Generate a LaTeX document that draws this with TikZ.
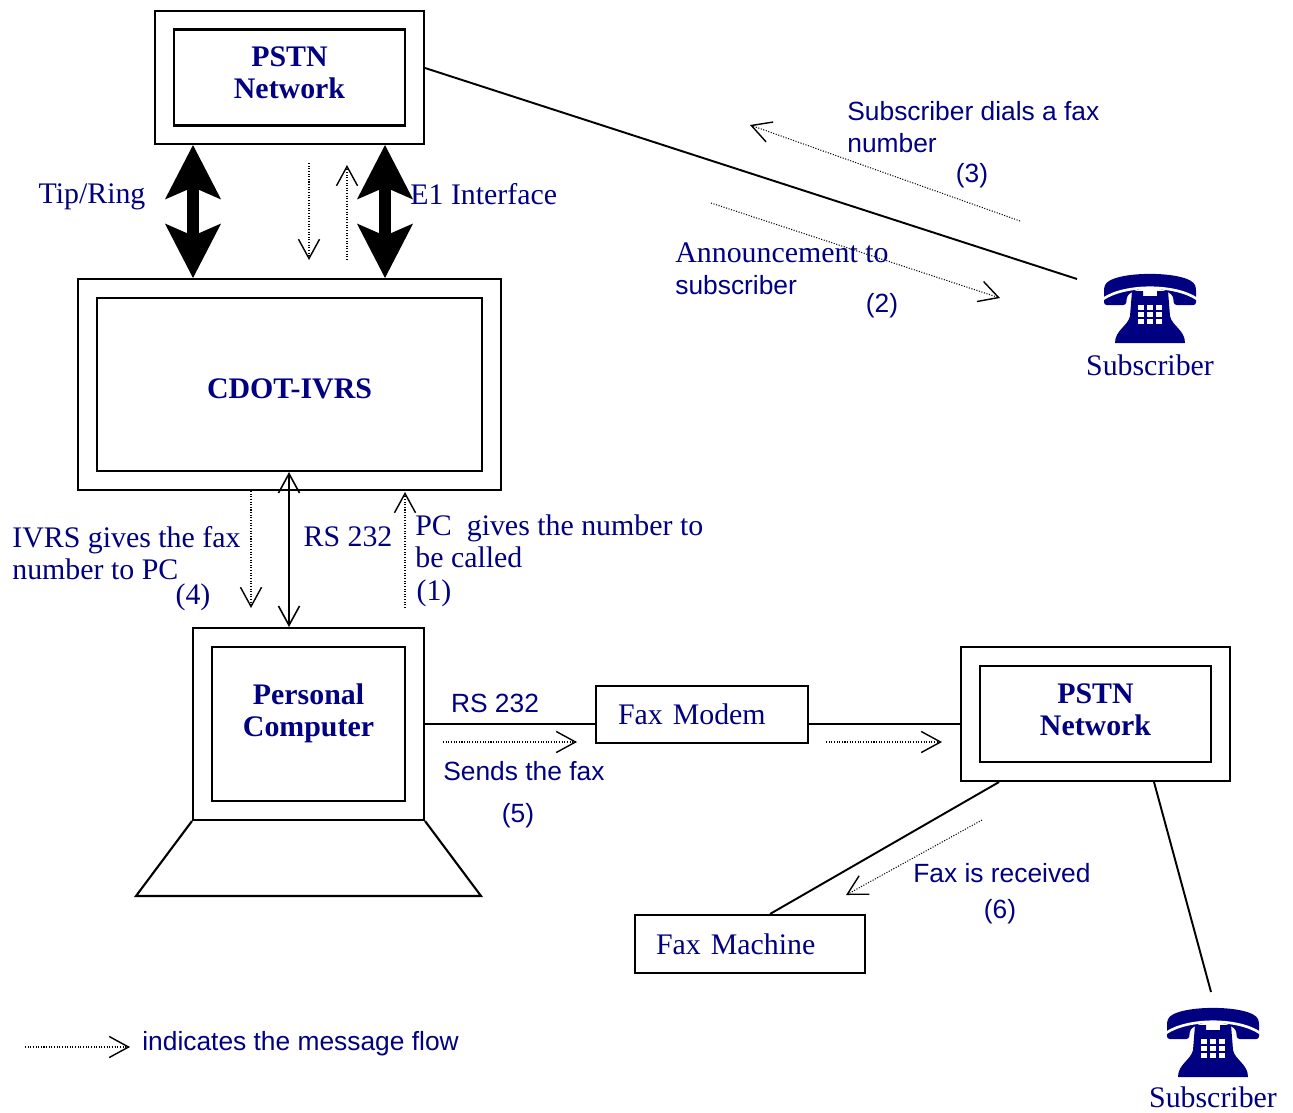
\documentclass[tikz,border=0pt]{standalone}
\usepackage{fontspec}
\setmainfont{Liberation Serif}
\setsansfont{Liberation Sans}
\usetikzlibrary{arrows.meta,calc}
\definecolor{navy}{RGB}{0,0,128}

% telephone icon, drawn around its body centre
\tikzset{
  phone/.pic={
    \fill[navy, rounded corners=1.5pt] (-46,-3) -- (-46,-20) .. controls (-40,-38) and (40,-38) .. (46,-20)
      -- (46,-3) -- (24,-3) -- (23,-12) .. controls (12,-22) and (-12,-22) .. (-23,-12) -- (-24,-3) -- cycle;
    \fill[navy] (-18,-17) -- (-7,-17) -- (-7,-12) -- (7,-12) -- (7,-17) -- (18,-17) -- (20,8)
      .. controls (22,18) and (35,22) .. (35,35) -- (-35,35) .. controls (-35,22) and (-22,18) .. (-20,8) -- cycle;
    \draw[white, line width=1.5pt] (-47,-9) .. controls (-25,-24) and (25,-24) .. (47,-9);
    \foreach \i in {-1,0,1}
      \foreach \j in {0,1,2}
        \fill[white] (\i*9-3,\j*7-3) rectangle ++(6,4.5);
  }
}

\begin{document}
\begin{tikzpicture}[x=0.02cm, y=-0.02cm,
    box/.style = {draw, line width=1.2pt, inner sep=0pt},
    title/.style = {text=navy, font=\fontsize{17}{18}\selectfont\bfseries, align=center, inner sep=0pt},
    lbl/.style = {text=navy, font=\fontsize{17}{18}\selectfont, align=left, inner sep=0pt},
    slbl/.style = {text=navy, font=\sffamily\fontsize{15}{17.8}\selectfont, align=left, inner sep=0pt},
    wire/.style = {line width=1.1pt},
    flow/.style = {line width=0.6pt, dash pattern=on 0.6pt off 0.9pt, -{Straight Barb[length=11pt, width=12pt, line width=0.8pt]}},
    link/.style = {line width=0.9pt, {Straight Barb[length=11pt, width=12pt, line width=0.9pt]}-{Straight Barb[length=11pt, width=12pt, line width=0.9pt]}},
    trunk/.style = {line width=6.5pt, {Stealth[length=31pt, width=32pt, inset=7pt, line width=0pt]}-{Stealth[length=31pt, width=32pt, inset=7pt, line width=0pt]}}]

    \useasboundingbox (0,0) rectangle (1293,1112);

    % network and equipment boxes
    \node[box, minimum width=5.38cm, minimum height=2.66cm] (pstnA) at (289.5,77.5) {};
    \node[box, minimum width=4.62cm, minimum height=1.92cm] (pstnAin) at (pstnA) {};
    \node[title] (pstnAtxt) at (289.5,73) {PSTN\\Network};

    \node[box, minimum width=8.46cm, minimum height=4.22cm] (ivrs) at (289.5,384.5) {};
    \node[box, minimum width=7.7cm, minimum height=3.46cm] (ivrsin) at (ivrs) {};
    \node[title] (ivrstxt) at (289.5,389) {CDOT-IVRS};

    \node[box, minimum width=4.62cm, minimum height=3.84cm] (pc) at (308.5,724) {};
    \node[box, minimum width=3.86cm, minimum height=3.08cm] (pcin) at (pc) {};
    \node[title] (pctxt) at (308.5,713) {Personal\\Computer};
    \draw[line width=1.2pt] (pc.south west) -- (136,896) -- (481,896) -- (pc.south east);

    \node[box, lbl, draw, line width=1.2pt, minimum height=1.14cm, text width=3.36cm, inner xsep=0.44cm] (modem) at (702,714.5) {Fax Modem};

    \node[box, minimum width=5.38cm, minimum height=2.68cm] (pstnB) at (1095.5,714) {};
    \node[box, minimum width=4.62cm, minimum height=1.92cm] (pstnBin) at (pstnB) {};
    \node[title] (pstnBtxt) at (1095.5,710) {PSTN\\Network};

    \node[box, lbl, draw, line width=1.2pt, minimum height=1.16cm, text width=3.76cm, inner xsep=0.42cm] (faxm) at (750,944) {Fax Machine};

    % subscribers
    \coordinate (phoneA) at (1150,308);
    \pic at (phoneA) {phone};
    \node[lbl] (subA) at (1150,365) {Subscriber};
    \coordinate (phoneB) at (1213,1042);
    \pic at (phoneB) {phone};
    \node[lbl] (subB) at (1213,1097) {Subscriber};

    % links
    \draw[trunk] (193,0 |- pstnA.south) -- (193,0 |- ivrs.north);
    \draw[trunk] (385,0 |- pstnA.south) -- (385,0 |- ivrs.north);
    \draw[link] (289,0 |- ivrsin.south) -- (289,0 |- pc.north);
    \draw[wire] (pstnA.east |- 0,68) -- ($(phoneA)+(-73,-29)$);
    \draw[wire] (pc.east) -- (pc.east -| modem.west);
    \draw[wire] (modem.east |- pc.east) -- (pstnB.west |- pc.east);
    \draw[wire] (999,0 |- pstnB.south) -- (770,0 |- faxm.north);
    \draw[wire] (1154,0 |- pstnB.south) -- ($(phoneB)+(-2,-50)$);

    % message flow
    \draw[flow] (309,163) -- (309,260);
    \draw[flow] (347,260) -- (347,165);
    \draw[flow] (251,491) -- (251,608);
    \draw[flow] (405,608) -- (405,492);
    \draw[flow] (1020,221) -- (750,125);
    \draw[flow] (711,203) -- (1000,298);
    \draw[flow] (443,742) -- (577,742);
    \draw[flow] (826,742) -- (942,742);
    \draw[flow] (982,820) -- (846,895);
    \draw[flow] (25,1047) -- (130,1047);

    % labels
    \node[lbl] (tipring) at (92,197) {Tip/Ring};
    \node[lbl, anchor=west] (eone) at (410,194) {E1 Interface};
    \node[lbl, anchor=west] (msgfour) at (12,553) {IVRS gives the fax\\number to PC};
    \node[lbl] (stepfour) at (193,597) {(4)};
    \node[lbl] (rsA) at (348,537) {RS 232};
    \node[lbl, anchor=west] (msgone) at (415,541) {PC\ \ gives the number to\\be called};
    \node[lbl] (stepone) at (434,593) {(1)};
    \node[slbl] (rsB) at (495,703) {RS 232};
    \node[slbl, anchor=west] (msgfive) at (443,771) {Sends the fax};
    \node[slbl] (stepfive) at (518,816) {(5)};
    \node[slbl, anchor=west] (msgsix) at (913,873) {Fax is received};
    \node[slbl] (stepsix) at (1000,912) {(6)};
    \node[slbl, anchor=west] (msgthree) at (847,127) {Subscriber dials a fax\\number};
    \node[slbl] (stepthree) at (972,176) {(3)};
    \node[lbl, anchor=west] (msgtwo) at (675,269) {Announcement to\\{\sffamily\fontsize{15}{17.8}\selectfont subscriber}};
    \node[slbl] (steptwo) at (882,306) {(2)};
    \node[slbl, anchor=west] (legend) at (142,1044) {indicates the message flow};

\end{tikzpicture}
\end{document}
